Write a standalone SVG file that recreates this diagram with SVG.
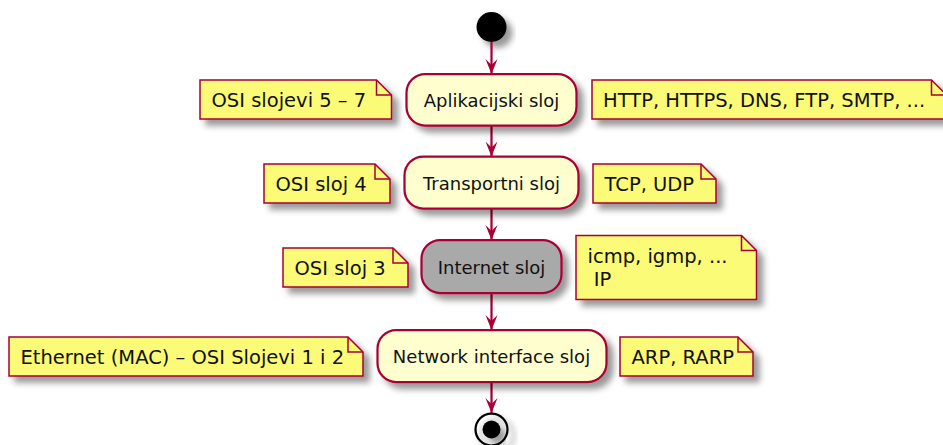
<svg xmlns="http://www.w3.org/2000/svg" width="943" height="445" viewBox="0 0 943 445">
<defs>
<filter id="sh" x="-20%" y="-40%" width="150%" height="200%">
<feGaussianBlur in="SourceAlpha" stdDeviation="3" result="b"/>
<feColorMatrix in="b" type="matrix" values="0 0 0 0 0  0 0 0 0 0  0 0 0 0 0  0 0 0 .4 0" result="b2"/>
<feOffset in="b2" dx="6" dy="6" result="b3"/>
<feBlend in="SourceGraphic" in2="b3" mode="normal"/>
</filter>
<marker id="ah" viewBox="0 -7 16 14" refX="15" refY="0" markerWidth="16" markerHeight="14" markerUnits="userSpaceOnUse" orient="auto">
<path d="M0,-6 L15,0 L0,6 L6,0 Z" fill="#A80036"/>
</marker>
</defs>
<style>
.act{fill:#FEFECE;stroke:#A80036;stroke-width:2.25;}
.gray{fill:#A9A9A9;}
.note{fill:#FBFB77;stroke:#A80036;stroke-width:1.5;}
.fold{fill:none;stroke:#A80036;stroke-width:1.5;}
.at{font-family:"DejaVu Sans","Liberation Sans",sans-serif;font-size:18px;fill:#111;text-anchor:middle;}
.nt{font-family:"DejaVu Sans","Liberation Sans",sans-serif;font-size:19.5px;fill:#111;}
.ln{stroke:#A80036;stroke-width:2.25;fill:none;marker-end:url(#ah);}
</style>
<rect width="943" height="445" fill="#FFFFFF"/>

<g id="start"><circle cx="491.5" cy="27" r="15" fill="#000" filter="url(#sh)"/></g>

<g id="connectors">
<path class="ln" d="M491.5,42 V74"/>
<path class="ln" d="M491.5,125.5 V156.5"/>
<path class="ln" d="M491.5,208.5 V240"/>
<path class="ln" d="M491.5,293 V330"/>
<path class="ln" d="M491.5,382 V413"/>
</g>

<g id="aplikacijski"><rect class="act" x="406.5" y="74" width="170" height="51.5" rx="18.75" filter="url(#sh)"/><text class="at" x="491.5" y="107">Aplikacijski sloj</text></g>
<g id="transportni"><rect class="act" x="404.5" y="156.5" width="174" height="52" rx="18.75" filter="url(#sh)"/><text class="at" x="491.5" y="190">Transportni sloj</text></g>
<g id="internet"><rect class="act gray" x="421.5" y="240" width="140" height="53" rx="18.75" filter="url(#sh)"/><text class="at" x="491.5" y="274">Internet sloj</text></g>
<g id="network"><rect class="act" x="377.5" y="330" width="229" height="52" rx="18.75" filter="url(#sh)"/><text class="at" x="491.5" y="363">Network interface sloj</text></g>

<g id="stop"><circle cx="491.5" cy="429.5" r="16" fill="none" stroke="#000" stroke-width="2.25" filter="url(#sh)"/><circle cx="491.5" cy="429.5" r="9" fill="#000" filter="url(#sh)"/></g>

<g id="note-osi57"><path class="note" d="M200,80 H376.5 L391.5,95 V119 H200 Z" filter="url(#sh)"/><path class="fold" d="M376.5,80 V95 H391.5"/><text class="nt" x="211.5" y="107">OSI slojevi 5 – 7</text></g>
<g id="note-http"><path class="note" d="M592,80 H931.5 L946.5,95 V119 H592 Z" filter="url(#sh)"/><path class="fold" d="M931.5,80 V95 H946.5"/><text class="nt" x="603" y="107">HTTP, HTTPS, DNS, FTP, SMTP, ...</text></g>
<g id="note-osi4"><path class="note" d="M264,164 H375 L390,179 V203 H264 Z" filter="url(#sh)"/><path class="fold" d="M375,164 V179 H390"/><text class="nt" x="275.5" y="191">OSI sloj 4</text></g>
<g id="note-tcp"><path class="note" d="M593,164 H701 L716,179 V203 H593 Z" filter="url(#sh)"/><path class="fold" d="M701,164 V179 H716"/><text class="nt" x="604.5" y="191">TCP, UDP</text></g>
<g id="note-osi3"><path class="note" d="M283,248 H393 L408,263 V287 H283 Z" filter="url(#sh)"/><path class="fold" d="M393,248 V263 H408"/><text class="nt" x="294.5" y="275">OSI sloj 3</text></g>
<g id="note-icmp"><path class="note" d="M576,235.5 H741.5 L756.5,250.5 V299.5 H576 Z" filter="url(#sh)"/><path class="fold" d="M741.5,235.5 V250.5 H756.5"/><text class="nt" x="587.5" y="263">icmp, igmp, ...</text><text class="nt" x="587.5" y="285.5" xml:space="preserve"> IP</text></g>
<g id="note-ethernet"><path class="note" d="M9,337 H348 L363,352 V376 H9 Z" filter="url(#sh)"/><path class="fold" d="M348,337 V352 H363"/><text class="nt" x="20.5" y="364">Ethernet (MAC) – OSI Slojevi 1 i 2</text></g>
<g id="note-arp"><path class="note" d="M620,337 H738 L753,352 V376 H620 Z" filter="url(#sh)"/><path class="fold" d="M738,337 V352 H753"/><text class="nt" x="631.5" y="364">ARP, RARP</text></g>
</svg>
